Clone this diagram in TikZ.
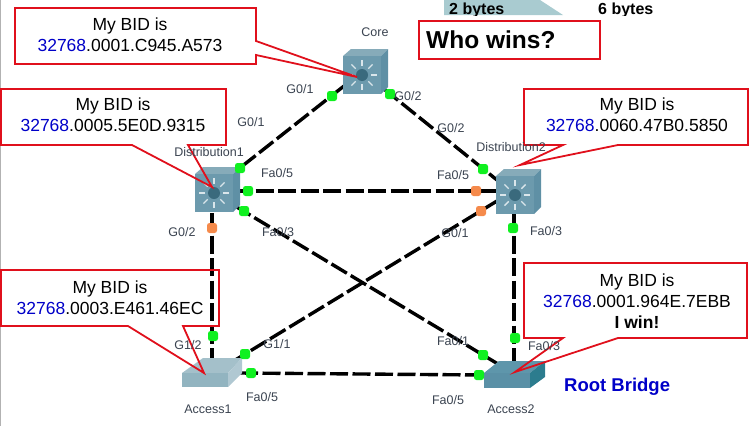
\documentclass[tikz,border=0pt]{standalone}
\usepackage{fontspec}
\setmainfont{Liberation Sans}
\usetikzlibrary{calc}
\definecolor{calloutred}{HTML}{E0101C}
\definecolor{bidblue}{HTML}{0000C8}
\definecolor{portgreen}{HTML}{10F020}
\definecolor{portorange}{HTML}{F58A4B}
\definecolor{labelgray}{HTML}{3A4350}
\definecolor{msfront}{HTML}{6C9AAD}
\definecolor{mstop}{HTML}{86ABB9}
\definecolor{msright}{HTML}{5F90A5}
\definecolor{msdark}{HTML}{3A6A7D}
\definecolor{hdrteal}{HTML}{A9CBD0}
\definecolor{atwotop}{HTML}{5E96AB}
\definecolor{atwofront}{HTML}{5A90A6}
\definecolor{atworight}{HTML}{2C7C8E}
\tikzset{
  link/.style={draw=black,line width=3.4pt,dash pattern=on 18pt off 4.5pt},
  port/.style={rectangle,rounded corners=2.5pt,minimum size=10pt,inner sep=0pt,fill=#1,draw=none},
  lbl/.style={font=\fontsize{12.5}{14}\selectfont,text=labelgray,inner sep=0pt},
  callout/.style={draw=calloutred,line width=1.8pt,line join=miter},
  bidtext/.style={font=\fontsize{17.5}{21}\selectfont,align=center,inner sep=0pt,text=black},
  hdrtext/.style={anchor=base west,inner sep=0pt,font=\bfseries\fontsize{16}{18}\selectfont}
}
\newcommand{\mlsw}[1]{% star centre
  \begin{scope}[shift={(#1)}]
    \fill[mstop] (-19,-19) -- (-11,-26) -- (26,-26) -- (19,-19) -- cycle;
    \fill[msright] (19,-19) -- (26,-26) -- (26,12) -- (19,19) -- cycle;
    \fill[msfront] (-19,-19) rectangle (19,19);
    \foreach \a in {0,45,...,315}
      \draw[white!75!msfront,line width=1.4pt] (\a:9) -- (\a:15);
    \fill[msdark] (0,0) circle (6pt);
  \end{scope}
}
\begin{document}
\begin{tikzpicture}[x=1pt,y=-1pt]
\useasboundingbox (0,0) rectangle (749,426);
\draw[gray!60,line width=1pt] (0.5,0) -- (0.5,426);
% header
\fill[hdrteal] (444,0) -- (540,0) -- (563,15) -- (444,15) -- cycle;
\begin{scope}
  \clip (440,0) rectangle (670,15);
  \node[hdrtext] (twobytes) at (449,14) {2 bytes};
  \node[hdrtext] (sixbytes) at (598,14) {6 bytes};
\end{scope}
% link end points
\coordinate (coreW) at (344,86);
\coordinate (coreE) at (384,89);
\coordinate (dOneN) at (236,171);
\coordinate (dOneE) at (233,191);
\coordinate (dOneSE) at (235,206);
\coordinate (dOneS) at (212,213);
\coordinate (dTwoN) at (497,180);
\coordinate (dTwoW) at (497,191);
\coordinate (dTwoSW) at (497,201);
\coordinate (dTwoS) at (514,213);
\coordinate (aOneN) at (212,358);
\coordinate (aOneNE) at (232,362);
\coordinate (aOneE) at (240,373);
\coordinate (aTwoN) at (514,362);
\coordinate (aTwoNW) at (498,364);
\coordinate (aTwoW) at (484,375);
% links
\draw[link] (coreW) -- (dOneN);
\draw[link] (coreE) -- (dTwoN);
\draw[link] (dOneE) -- (dTwoW);
\draw[link] (dOneSE) -- (aTwoNW);
\draw[link] (dOneS) -- (aOneN);
\draw[link] (dTwoSW) -- (aOneNE);
\draw[link] (dTwoS) -- (aTwoN);
\draw[link] (aOneE) -- (aTwoW);
% devices
\mlsw{362,75}
\mlsw{214,193}
\mlsw{515,195}
\fill[mstop!75!white] (182,373) -- (203,358) -- (242,358) -- (228,373) -- cycle;
\fill[mstop!65!white] (228,373) -- (242,358) -- (242,373) -- (228,387) -- cycle;
\fill[mstop!90!white] (182,373) rectangle (228,387);
\fill[atwotop] (484,373) -- (499,361) -- (545,361) -- (530,373) -- cycle;
\fill[atworight] (530,373) -- (545,361) -- (545,377) -- (530,388) -- cycle;
\fill[atwofront] (484,373) rectangle (530,388);
% ports
\node[port=portgreen] (p1) at (332,96) {};
\node[port=portgreen] (p2) at (390,94) {};
\node[port=portgreen] (p3) at (240,168) {};
\node[port=portgreen] (p4) at (248,191) {};
\node[port=portgreen] (p5) at (244,211) {};
\node[port=portorange] (p6) at (212,228) {};
\node[port=portgreen] (p7) at (483,169) {};
\node[port=portorange] (p8) at (476,191) {};
\node[port=portorange] (p9) at (481,211) {};
\node[port=portgreen] (p10) at (513,228) {};
\node[port=portgreen] (p11) at (213,336) {};
\node[port=portgreen] (p12) at (245,354) {};
\node[port=portgreen] (p13) at (251,373) {};
\node[port=portgreen] (p14) at (483,355) {};
\node[port=portgreen] (p15) at (479,375) {};
\node[port=portgreen] (p16) at (515,338) {};
% callouts
\draw[callout] (15,8) -- (256,8) -- (256,41) -- (357,77) -- (256,55) -- (256,64) -- (15,64) -- cycle;
\draw[callout] (1,89) -- (226,89) -- (226,145) -- (188,145) -- (212,187) -- (132,145) -- (1,145) -- cycle;
\draw[callout] (524,89) -- (748,89) -- (748,145) -- (618,145) -- (520,165) -- (563,145) -- (524,145) -- cycle;
\draw[callout] (1,270) -- (219,270) -- (219,326) -- (183,326) -- (204,373) -- (128,326) -- (1,326) -- cycle;
\draw[callout] (524,263) -- (747,263) -- (747,338) -- (618,338) -- (515,372) -- (563,338) -- (524,338) -- cycle;
\draw[callout] (419,21) rectangle (600,59);
% labels
\node[lbl] (lcore) at (375,32) {Core};
\node[lbl] (ld1) at (209,152) {Distribution1};
\node[lbl] (ld2) at (511,147) {Distribution2};
\node[lbl] (la1) at (208,409) {Access1};
\node[lbl] (la2) at (511,409) {Access2};
\node[lbl] at (300,89) {G0/1};
\node[lbl] at (251,122) {G0/1};
\node[lbl] at (408,96) {G0/2};
\node[lbl] at (451,128) {G0/2};
\node[lbl] at (277,173) {Fa0/5};
\node[lbl] at (453,175) {Fa0/5};
\node[lbl] at (278,232) {Fa0/3};
\node[lbl] at (182,232) {G0/2};
\node[lbl] at (455,233) {G0/1};
\node[lbl] at (546,231) {Fa0/3};
\node[lbl] at (188,345) {G1/2};
\node[lbl] at (277,344) {G1/1};
\node[lbl] at (453,341) {Fa0/1};
\node[lbl] at (544,346) {Fa0/3};
\node[lbl] at (262,397) {Fa0/5};
\node[lbl] at (448,400) {Fa0/5};
% texts
\node[anchor=base west,inner sep=0pt,font=\bfseries\fontsize{24.5}{26}\selectfont] (who) at (426,48) {Who wins?};
\node[bidtext] (b1) at (130,35) {My BID is\\\textcolor{bidblue}{32768}.0001.C945.A573};
\node[bidtext] (b2) at (113,115) {My BID is\\\textcolor{bidblue}{32768}.0005.5E0D.9315};
\node[bidtext] (b3) at (637,115) {My BID is\\\textcolor{bidblue}{32768}.0060.47B0.5850};
\node[bidtext] (b4) at (110,298) {My BID is\\\textcolor{bidblue}{32768}.0003.E461.46EC};
\node[bidtext] (b5) at (637,301) {My BID is\\\textcolor{bidblue}{32768}.0001.964E.7EBB\\\textbf{I win!}};
\node[anchor=base west,inner sep=0pt,font=\bfseries\fontsize{18.5}{20}\selectfont,text=bidblue] (root) at (564,391) {Root Bridge};
\end{tikzpicture}
\end{document}
